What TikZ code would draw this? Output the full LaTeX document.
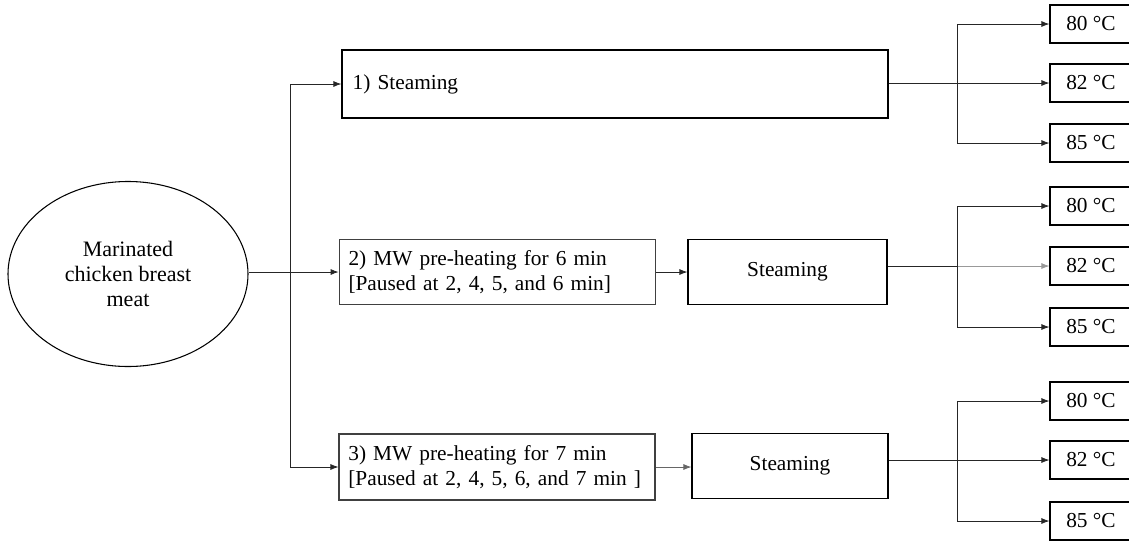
\documentclass[tikz,border=0pt]{standalone}
\usepackage{fontspec}
\setmainfont{Liberation Serif}
\usetikzlibrary{arrows.meta,shapes.geometric}
\begin{document}
\begin{tikzpicture}[x=0.75pt,y=-0.75pt,
  every node/.style={font=\fontsize{16}{19}\selectfont},
  box/.style={draw=black, line width=0.9pt, inner sep=0pt},
  mwbox/.style={draw=black!75, line width=0.8pt, inner xsep=7pt, inner ysep=0pt, align=left},
  tbox/.style={draw=black, line width=0.9pt, minimum width=61.5pt, minimum height=28.5pt, inner sep=0pt},
  conn/.style={line width=0.6pt, draw=black!85},
  arr/.style={conn, -{Latex[length=6pt,width=4.5pt]}}
]
\path[use as bounding box] (0,0) rectangle (1129,540);
\clip (0,0) rectangle (1129,540);

% left ellipse
\node[draw=black, line width=0.8pt, ellipse, minimum width=180pt, minimum height=138.75pt, inner sep=0pt, align=center,
  font=\fontsize{16.5}{18.75}\selectfont] (ell) at (128,274) {Marinated\\chicken breast\\meat};

% treatment boxes
\node[box, minimum width=409.5pt, minimum height=51pt, text width=393.5pt, inner xsep=8pt, align=left] (b1) at (615,84) {1) Steaming};
\node[mwbox, minimum height=48.75pt, text width=223.5pt] (b2) at (497.5,272) {2) MW pre-heating for 6 min\\{}[Paused at 2, 4, 5, and 6 min]};
\node[mwbox, minimum height=49.5pt, text width=223pt] (b3) at (497,467) {3) MW pre-heating for 7 min\\{}[Paused at 2, 4, 5, 6, and 7 min ]};
\node[box, minimum width=149.25pt, minimum height=48.75pt] (s2) at (787.5,272) {Steaming};
\node[box, minimum width=147pt, minimum height=48.75pt] (s3) at (790,466) {Steaming};

% temperature boxes
\node[tbox] (t11) at (1091,24) {80 °C};
\node[tbox] (t12) at (1091,83) {82 °C};
\node[tbox] (t13) at (1091,143) {85 °C};
\node[tbox] (t21) at (1091,206) {80 °C};
\node[tbox] (t22) at (1091,266) {82 °C};
\node[tbox] (t23) at (1091,327) {85 °C};
\node[tbox] (t31) at (1091,401) {80 °C};
\node[tbox] (t32) at (1091,460) {82 °C};
\node[tbox] (t33) at (1091,521) {85 °C};

% left connectors
\coordinate (j) at (290,273);
\draw[arr] (ell.east |- b2.west) -- (b2.west);
\draw[arr] (j) |- (b1.west);
\draw[arr] (j) |- (b3.west);
\draw[arr] (b2.east) -- (s2.west);
\draw[arr, draw=black!60] (b3.east) -- (b3.east -| s3.west);

% right connectors
\coordinate (k1) at (957,83);
\coordinate (k2) at (957,266);
\coordinate (k3) at (957,460);
\draw[arr] (b1.east |- t12.west) -- (t12.west);
\draw[arr] (k1) |- (t11.west);
\draw[arr] (k1) |- (t13.west);
\draw[conn] (s2.east |- k2) -- (k2);
\draw[arr, draw=black!40] (k2) -- (t22.west);
\draw[arr] (k2) |- (t21.west);
\draw[arr] (k2) |- (t23.west);
\draw[arr] (s3.east |- t32.west) -- (t32.west);
\draw[arr] (k3) |- (t31.west);
\draw[arr] (k3) |- (t33.west);
\end{tikzpicture}
\end{document}
